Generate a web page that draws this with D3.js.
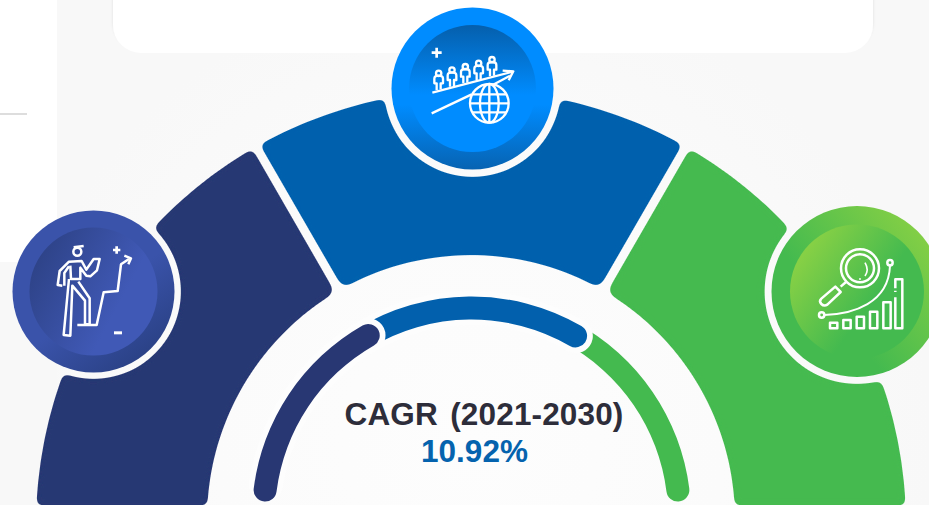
<!DOCTYPE html>
<html>
<head>
<meta charset="utf-8">
<script src="https://cdn.jsdelivr.net/npm/d3@7"></script>
<style>
  html, body { margin: 0; padding: 0; background: #fff; overflow: hidden; }
  svg { display: block; }
</style>
</head>
<body>
<script>
// degrees of the half ring that each band covers
var bandShares = [60, 60, 60];
var bandColors = ["#283773", "#0260ad", "#44ba4f"];
var gaugeShares = [59.4, 59.8, 52.8];
var title = "CAGR (2021-2030)";
var cagr = "10.92%";

var width = 929, height = 505;
var rad = Math.PI / 180;

var svg = d3.select("body").append("svg")
  .attr("width", width)
  .attr("height", height)
  .attr("viewBox", "0 0 " + width + " " + height);

var defs = svg.append("defs");

function gradient(id, x1, y1, x2, y2, stops) {
  var g = defs.append("linearGradient")
    .attr("id", id)
    .attr("x1", x1).attr("y1", y1)
    .attr("x2", x2).attr("y2", y2);
  stops.forEach(function(s) {
    g.append("stop").attr("offset", s[0]).attr("stop-color", s[1]);
  });
}

gradient("leftOuter", 0.2, 0.1, 0.8, 0.9, [[0, "#3a53aa"], [0.55, "#3a53aa"], [1, "#2b4287"]]);
gradient("leftInner", 0.05, 0.25, 0.7, 0.6, [[0, "#2e4388"], [1, "#4059b6"]]);
gradient("midOuter", 0, 0, 0, 1, [[0, "#008cff"], [0.6, "#008cff"], [1, "#0763b2"]]);
gradient("midInner", 0, 0, 0, 1, [[0, "#055fac"], [0.55, "#008cff"], [1, "#008cff"]]);
gradient("rightOuter", 0.85, 0.1, 0.3, 0.55, [[0, "#84cf45"], [1, "#44ba4f"]]);
gradient("rightInner", 0.05, 0.3, 0.55, 0.65, [[0, "#86d045"], [1, "#44ba4f"]]);

var glow = defs.append("radialGradient")
  .attr("id", "paper")
  .attr("gradientUnits", "userSpaceOnUse")
  .attr("cx", 471).attr("cy", 440).attr("r", 460);
glow.append("stop").attr("offset", 0).attr("stop-color", "#fdfdfd");
glow.append("stop").attr("offset", 0.55).attr("stop-color", "#fbfbfb");
glow.append("stop").attr("offset", 1).attr("stop-color", "#f8f8f8");

var soft = defs.append("filter").attr("id", "cardShadow")
  .attr("x", "-5%").attr("y", "-20%").attr("width", "110%").attr("height", "140%");
soft.append("feDropShadow")
  .attr("dx", 0).attr("dy", -3)
  .attr("stdDeviation", 1.5)
  .attr("flood-color", "#000")
  .attr("flood-opacity", 0.1);

// blur + threshold rounds the corners left by the circle cut outs
var rounded = defs.append("filter").attr("id", "roundCorners")
  .attr("filterUnits", "userSpaceOnUse")
  .attr("x", 0).attr("y", 0).attr("width", width).attr("height", height + 20);
rounded.append("feGaussianBlur").attr("in", "SourceGraphic").attr("stdDeviation", 3.5);
rounded.append("feComponentTransfer").append("feFuncA")
  .attr("type", "linear").attr("slope", 9).attr("intercept", -4);

var circles = [
  { cx: 93.5, cy: 291.5, r: 81, ring: 87.5, inner: 64, outerFill: "leftOuter", innerFill: "leftInner", icon: drawClimber },
  { cx: 472.5, cy: 88.5, r: 81, ring: 88.5, inner: 63.5, outerFill: "midOuter", innerFill: "midInner", icon: drawPeople },
  { cx: 857, cy: 291.5, r: 85.5, ring: 92.5, inner: 67, outerFill: "rightOuter", innerFill: "rightInner", icon: drawSearch }
];

// outer edge of the bands sits on a slightly lower centre than the inner edge
var cutout = defs.append("mask")
  .attr("id", "cutout")
  .attr("maskUnits", "userSpaceOnUse")
  .attr("x", 0).attr("y", 0).attr("width", width).attr("height", height + 20);
cutout.append("circle")
  .attr("cx", 471).attr("cy", 525).attr("r", 435)
  .attr("fill", "#fff");
cutout.append("rect")
  .attr("y", 505.5)
  .attr("width", width)
  .attr("height", 30)
  .attr("fill", "#000");
cutout.selectAll("circle.badge")
  .data(circles)
  .enter().append("circle")
    .attr("class", "badge")
    .attr("cx", function(d) { return d.cx; })
    .attr("cy", function(d) { return d.cy; })
    .attr("r", function(d) { return d.ring; })
    .attr("fill", "#000");

// backdrop
svg.append("rect")
  .attr("x", 57).attr("width", width - 57).attr("height", height)
  .attr("fill", "url(#paper)");
svg.append("rect")
  .attr("y", 262).attr("width", 57).attr("height", height - 262)
  .attr("fill", "#f8f8f8");
svg.append("rect")
  .attr("x", 113).attr("y", -40).attr("width", 760).attr("height", 93)
  .attr("rx", 28)
  .attr("fill", "#fff")
  .attr("filter", "url(#cardShadow)");
svg.append("rect")
  .attr("x", 0).attr("y", 113).attr("width", 27).attr("height", 2)
  .attr("fill", "#dddddd");

// outer bands
var bandPie = d3.pie().sort(null).value(function(d) { return d; })
  .startAngle(-90 * rad).endAngle(90 * rad)
  .padAngle(0.016);

var bandArc = d3.arc().innerRadius(264).outerRadius(480).cornerRadius(7);

svg.append("g")
  .attr("filter", "url(#roundCorners)")
  .append("g")
    .attr("mask", "url(#cutout)")
    .append("g")
      .attr("transform", "translate(471,519)")
      .selectAll("path")
      .data(bandPie(bandShares))
      .enter().append("path")
        .attr("d", bandArc)
        .attr("fill", function(d, i) { return bandColors[i]; });

// inner gauge, drawn back to front so each round end laps the next colour
var gaugePie = d3.pie().sort(null).value(function(d) { return d; })
  .startAngle(-86 * rad).endAngle(86 * rad);
var gaugeArc = d3.arc().innerRadius(196.5).outerRadius(219.5).cornerRadius(11.5);
var haloArc = d3.arc().innerRadius(191).outerRadius(225).cornerRadius(17);
var gaugeSlices = gaugePie(gaugeShares);

var gauge = svg.append("g").attr("transform", "translate(471.5,516)");

[2, 1, 0].forEach(function(i) {
  var s = gaugeSlices[i];
  // start runs under the previous colour's round end
  var tucked = { startAngle: i ? s.startAngle - 8 * rad : s.startAngle, endAngle: s.endAngle };
  if (i < 2) {
    gauge.append("path")
      .attr("d", haloArc({ startAngle: tucked.startAngle, endAngle: tucked.endAngle + 1.6 * rad }))
      .attr("fill", "#fdfdfd");
  }
  gauge.append("path")
    .attr("d", gaugeArc(tucked))
    .attr("fill", bandColors[i]);
});

// labels
svg.append("text")
  .attr("x", 484).attr("y", 425)
  .attr("text-anchor", "middle")
  .attr("font-family", "'Liberation Sans', Arial, sans-serif")
  .attr("font-weight", "bold")
  .attr("font-size", 31.5)
  .attr("letter-spacing", 0.15)
  .attr("word-spacing", 3.5)
  .attr("fill", "#2d2d3a")
  .text(title);

svg.append("text")
  .attr("x", 474.5).attr("y", 462)
  .attr("text-anchor", "middle")
  .attr("font-family", "'Liberation Sans', Arial, sans-serif")
  .attr("font-weight", "bold")
  .attr("font-size", 31.5)
  .attr("fill", "#0563ae")
  .text(cagr);

// badges
circles.forEach(function(c) {
  var g = svg.append("g");
  g.append("circle").attr("cx", c.cx).attr("cy", c.cy).attr("r", c.r).attr("fill", "url(#" + c.outerFill + ")");
  g.append("circle").attr("cx", c.cx).attr("cy", c.cy).attr("r", c.inner).attr("fill", "url(#" + c.innerFill + ")");
  c.icon(g);
});

// icon helper: coordinates are in 3x units, origin given per icon
function iconGroup(parent, x, y) {
  return parent.append("g")
    .attr("transform", "translate(" + x + "," + y + ") scale(0.3333)")
    .attr("fill", "none")
    .attr("stroke", "#fff")
    .attr("stroke-width", 7.5)
    .attr("stroke-linejoin", "round");
}

function plus(g, x, y, s) {
  g.append("path")
    .attr("d", "M" + (x - s) + "," + y + "H" + (x + s) + "M" + x + "," + (y - s) + "V" + (y + s))
    .attr("stroke-width", 8);
}

function drawClimber(parent) {
  var g = iconGroup(parent, 45, 235);
  g.append("circle").attr("cx", 97).attr("cy", 50).attr("r", 12);
  g.append("path").attr("d", "M86,37L116,33");
  g.append("path").attr("d", "M52,152L38,150L44,108L72,80L110,78L124,104L146,72L164,72L156,106L136,124L124,122L106,98L106,132L78,132L76,92");
  g.append("path").attr("d", "M58,152L58,114L72,94");
  g.append("path").attr("d", "M72,132L56,300L76,302L82,152L120,197L120,268L134,268L134,190L100,140");
  g.append("path").attr("d", "M97,270H155L176,172L218,168L228,88L252,72");
  g.append("path").attr("d", "M238,62L258,70L250,88");
  plus(g, 215, 45, 11);
  g.append("rect").attr("x", 207).attr("y", 289).attr("width", 24).attr("height", 9)
    .attr("fill", "#fff").attr("stroke", "none");
}

function drawPeople(parent) {
  var g = iconGroup(parent, 420, 35).attr("stroke-width", 7);
  plus(g, 50, 53, 15);
  var feet = [[56, 165], [96, 155], [136, 145], [176, 135], [216, 124]];
  feet.forEach(function(f) {
    var x = f[0], y = f[1];
    g.append("circle").attr("cx", x).attr("cy", y - 50).attr("r", 8);
    g.append("path").attr("d",
      "M" + (x - 6) + "," + y +
      "V" + (y - 20) +
      "H" + (x - 13) +
      "V" + (y - 34) +
      "Q" + (x - 13) + "," + (y - 43) + " " + x + "," + (y - 43) +
      "Q" + (x + 13) + "," + (y - 43) + " " + (x + 13) + "," + (y - 34) +
      "V" + (y - 20) +
      "H" + (x + 6) +
      "V" + (y - 2));
  });
  g.append("path").attr("d", "M37,173L278,110");
  g.append("path").attr("d", "M35,235L155,178");
  g.append("path").attr("d", "M218,150L270,122");
  g.append("path").attr("d", "M248,107L280,109L266,136");
  g.append("circle").attr("cx", 208).attr("cy", 205).attr("r", 58);
  g.append("ellipse").attr("cx", 208).attr("cy", 205).attr("rx", 28).attr("ry", 58);
  g.append("path").attr("d", "M208,147V263M150,205H266M158,178H258M158,232H258");
}

function drawSearch(parent) {
  var g = iconGroup(parent, 810, 240);
  g.append("circle").attr("cx", 150).attr("cy", 85).attr("r", 57);
  g.append("circle").attr("cx", 150).attr("cy", 85).attr("r", 42);
  g.append("path").attr("d", "M165,68Q178,90 165,108").attr("stroke-width", 5);
  g.append("circle").attr("cx", 150).attr("cy", 117).attr("r", 2).attr("fill", "#fff").attr("stroke-width", 2);
  g.append("path").attr("d", "M108,126L92,140");
  g.append("path").attr("d", "M76,140L92,156L52,194Q42,200 34,192Q26,184 34,176Z");
  g.append("path").attr("d", "M43,225C130,222 235,190 240,78").attr("stroke-width", 6);
  g.append("circle").attr("cx", 35).attr("cy", 225).attr("r", 8);
  g.append("circle").attr("cx", 240).attr("cy", 68).attr("r", 8);
  g.append("rect").attr("x", 60).attr("y", 248).attr("width", 22).attr("height", 17);
  g.append("rect").attr("x", 100).attr("y", 240).attr("width", 22).attr("height", 25);
  g.append("rect").attr("x", 140).attr("y", 230).attr("width", 22).attr("height", 35);
  g.append("rect").attr("x", 180).attr("y", 215).attr("width", 22).attr("height", 50);
  g.append("rect").attr("x", 220).attr("y", 187).attr("width", 22).attr("height", 78);
  g.append("path").attr("d", "M256,145V118H277V265H256V172M256,152V156");
}
</script>
</body>
</html>
